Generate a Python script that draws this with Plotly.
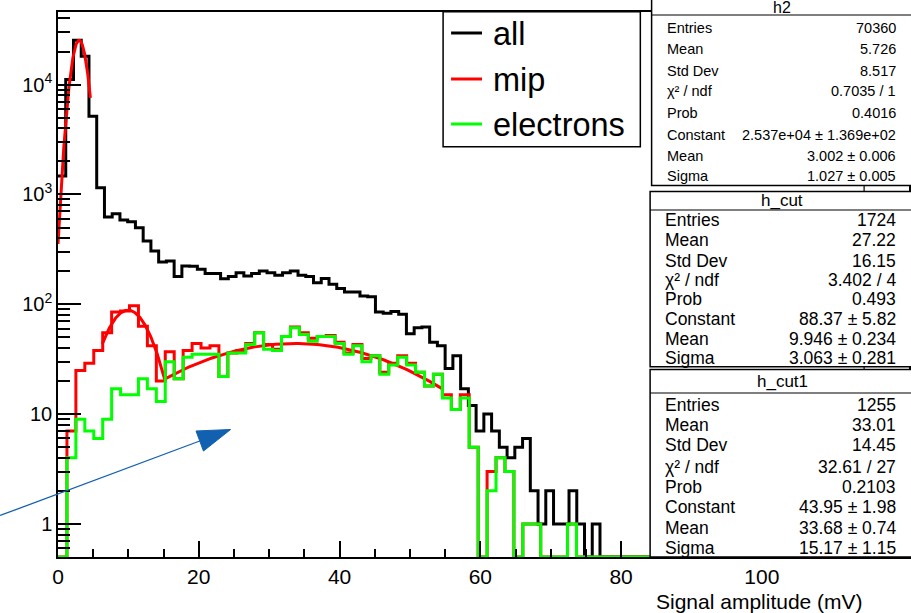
import math
import plotly.graph_objects as go

# ---------------------------------------------------------------- data
# "all" histogram: 1.1 mV bins starting at 0
ALL_BIN_WIDTH = 1.1
all_counts = [1470, 11100, 25400, 18100, 5150, 1150, 622, 668, 584, 565,
              498, 376, 305, 243, 248, 179, 223, 222, 208, 191,
              191, 171, 179, 194, 181, 191, 201, 194, 184, 194,
              201, 184, 179, 157, 172, 152, 139, 129, 129, 119,
              117, 85, 83, 86, 81, 54, 61, 62, 45, 42,
              26, 34, 17, 12, 7, 10, 7, 5, 4, 5,
              6, 2, 1, 2, 1, 1, 2, 1, 0, 1]
ALL_NBINS = 110

# "mip" and "electrons" histograms: 1.27 mV bins starting at 0
CUT_BIN_WIDTH = 1.27
mip_counts = [0, 7, 25, 29, 38, 55, 85, 87, 97, 63,
              42, 20, 37, 21, 38, 44, 40, 42, 22, 36,
              38, 44, 55, 43, 39, 51, 62, 55, 49, 51,
              52, 45, 36, 43, 32, 34, 24, 29, 34, 29,
              24, 18, 23, 15, 11, 15, 5, 0, 3, 4,
              3, 0, 1, 1, 0, 0, 0, 1]
electron_counts = [0, 4, 9, 7, 6, 9, 17, 15, 15, 21,
                   17, 13, 30, 21, 33, 35, 35, 35, 22, 36,
                   36, 43, 55, 39, 38, 51, 61, 53, 46, 51,
                   51, 44, 35, 42, 30, 34, 23, 28, 33, 28,
                   24, 18, 23, 14, 11, 14, 5, 0, 2, 4,
                   3, 0, 1, 1, 0, 0, 0, 1]
CUT_NBINS = 96

# Gaussian fits (constant, mean, sigma) and their drawn ranges
fit_constants = [2.537e4, 88.37, 43.95]
fit_means = [3.002, 9.946, 33.68]
fit_sigmas = [1.027, 3.063, 15.17]
fit_ranges = [(0.0, 4.6), (6.3, 15.2), (15.2, 54.5)]

legend_names = ["all", "mip", "electrons"]
legend_colors = ["#000000", "#ff0000", "#00ff00"]

x_tick_vals = [0, 20, 40, 60, 80, 100]
x_tick_text = ["0", "20", "40", "60", "80", "100"]
y_tick_vals = [1, 10, 100, 1000, 10000]
y_tick_text = ["1", "10", "10<sup>2</sup>", "10<sup>3</sup>", "10<sup>4</sup>"]

stats_titles = ["h2", "h_cut", "h_cut1"]
stats_labels = [
    ["Entries", "Mean", "Std Dev", "χ² / ndf", "Prob", "Constant", "Mean", "Sigma"],
    ["Entries", "Mean", "Std Dev", "χ² / ndf", "Prob", "Constant", "Mean", "Sigma"],
    ["Entries", "Mean", "Std Dev", "χ² / ndf", "Prob", "Constant", "Mean", "Sigma"],
]
stats_values = [
    ["70360", "5.726", "8.517", "0.7035 / 1", "0.4016",
     "2.537e+04 ± 1.369e+02", "3.002 ± 0.006", "1.027 ± 0.005"],
    ["1724", "27.22", "16.15", "3.402 / 4", "0.493",
     "88.37 ± 5.82", "9.946 ± 0.234", "3.063 ± 0.281"],
    ["1255", "33.01", "14.45", "32.61 / 27", "0.2103",
     "43.95 ± 1.98", "33.68 ± 0.74", "15.17 ± 1.15"],
]

# ---------------------------------------------------------------- geometry
W, H = 911, 613
ML, MR, MT, MB = 58, 0, 12, 56
PW, PH = W - ML - MR, H - MT - MB
X_RANGE = [0, 120.9]
Y_FLOOR = 0.5
Y_RANGE = [math.log10(Y_FLOOR), 4.661]
FONT = "Liberation Sans, Arial, Helvetica, sans-serif"


def px(x):
    return (x - ML) / PW


def py(y):
    return (H - MB - y) / PH


def step(counts, width, nbins):
    vals = list(counts) + [0] * (nbins - len(counts))
    edges = [i * width for i in range(nbins + 1)]
    ys = [v if v > 0 else Y_FLOOR for v in vals]
    return edges, ys + [ys[-1]]


fig = go.Figure()

for counts, width, nbins, color in [
    (all_counts, ALL_BIN_WIDTH, ALL_NBINS, legend_colors[0]),
    (mip_counts, CUT_BIN_WIDTH, CUT_NBINS, legend_colors[1]),
]:
    xs, ys = step(counts, width, nbins)
    fig.add_trace(go.Scatter(x=xs, y=ys, mode="lines",
                             line=dict(color=color, width=3, shape="hv"),
                             showlegend=False, hoverinfo="skip"))

# fit curves
for c, m, s, (lo, hi) in zip(fit_constants, fit_means, fit_sigmas, fit_ranges):
    n = 120
    xs = [lo + (hi - lo) * i / n for i in range(n + 1)]
    ys = [c * math.exp(-0.5 * ((x - m) / s) ** 2) for x in xs]
    fig.add_trace(go.Scatter(x=xs, y=ys, mode="lines",
                             line=dict(color="#ff0000", width=3),
                             showlegend=False, hoverinfo="skip"))

xs, ys = step(electron_counts, CUT_BIN_WIDTH, CUT_NBINS)
fig.add_trace(go.Scatter(x=xs, y=ys, mode="lines",
                         line=dict(color=legend_colors[2], width=3, shape="hv"),
                         showlegend=False, hoverinfo="skip"))

shapes = []
annotations = []

# blue arrow
ax0, ay0 = 0.0, 515.5
ax1, ay1 = 231.0, 429.5
dx, dy = ax1 - ax0, ay1 - ay0
dl = math.hypot(dx, dy)
ux, uy = dx / dl, dy / dl
head_len, head_half = 33.0, 10.7
bx, by = ax1 - ux * head_len, ay1 - uy * head_len
c1 = (bx - uy * head_half, by + ux * head_half)
c2 = (bx + uy * head_half, by - ux * head_half)
ARROW = "#1260b0"
shapes.append(dict(type="line", xref="paper", yref="paper",
                   x0=px(ax0), y0=py(ay0), x1=px(bx), y1=py(by),
                   line=dict(color=ARROW, width=1.3)))
shapes.append(dict(type="path", xref="paper", yref="paper",
                   path=f"M {px(ax1)} {py(ay1)} L {px(c1[0])} {py(c1[1])} "
                        f"L {px(c2[0])} {py(c2[1])} Z",
                   fillcolor=ARROW, line=dict(color=ARROW, width=1)))

# legend box
LG = dict(x0=444, x1=641.7, y0=11.7, y1=146.7)
shapes.append(dict(type="rect", xref="paper", yref="paper",
                   x0=px(LG["x0"]), x1=px(LG["x1"]), y0=py(LG["y1"]), y1=py(LG["y0"]),
                   fillcolor="white", line=dict(color="black", width=1.5)))
for name, color, ry in zip(legend_names, legend_colors, [33, 79, 124]):
    shapes.append(dict(type="line", xref="paper", yref="paper",
                       x0=px(452), x1=px(483), y0=py(ry), y1=py(ry),
                       line=dict(color=color, width=3)))
    annotations.append(dict(xref="paper", yref="paper", x=px(492), y=py(ry + 1),
                            xanchor="left", yanchor="middle", showarrow=False,
                            text=name, font=dict(family=FONT, size=32.5, color="black")))

# stats boxes
boxes = [
    dict(left=653, top=-5, sep=15, bottom=185.5, title_y=7, rows=[28, 49.3, 70.7, 91, 113.3, 135, 155.7, 175.7],
         fs=14.5, tfs=16, lx=666.5),
    dict(left=651.5, top=191.5, sep=210, bottom=366.7, title_y=200.5,
         rows=[220, 240, 260.5, 280, 298.5, 318.5, 338.5, 358.3], fs=17.5, tfs=17, lx=664.5),
    dict(left=651.5, top=369.5, sep=393, bottom=557, title_y=381.5,
         rows=[405, 425, 445, 466.7, 486.7, 506.7, 527.5, 547.5], fs=17.5, tfs=17, lx=664),
]
for b, title, labels, values in zip(boxes, stats_titles, stats_labels, stats_values):
    shapes.append(dict(type="rect", xref="paper", yref="paper",
                       x0=px(b["left"]), x1=px(W + 5), y0=py(b["bottom"]), y1=py(b["top"]),
                       fillcolor="white", line=dict(color="black", width=1.5)))
    shapes.append(dict(type="line", xref="paper", yref="paper",
                       x0=px(b["left"]), x1=px(W + 5), y0=py(b["sep"]), y1=py(b["sep"]),
                       line=dict(color="black", width=1.2)))
    annotations.append(dict(xref="paper", yref="paper", x=px(784), y=py(b["title_y"]),
                            xanchor="center", yanchor="middle", showarrow=False,
                            text=title, font=dict(family=FONT, size=b["tfs"], color="black")))
    for lab, val, ry in zip(labels, values, b["rows"]):
        annotations.append(dict(xref="paper", yref="paper", x=px(b["lx"]), y=py(ry),
                                xanchor="left", yanchor="middle", showarrow=False,
                                text=lab, font=dict(family=FONT, size=b["fs"], color="black")))
        annotations.append(dict(xref="paper", yref="paper", x=px(900), y=py(ry),
                                xanchor="right", yanchor="middle", showarrow=False,
                                text=val, font=dict(family=FONT, size=b["fs"], color="black")))

# short frame segments peeking out between the boxes
for y0, y1 in [(185.5, 191.5), (366.7, 369.5)]:
    shapes.append(dict(type="line", xref="paper", yref="paper",
                       x0=px(866), x1=px(866), y0=py(y1), y1=py(y0),
                       line=dict(color="black", width=1.2)))

# x axis title
annotations.append(dict(xref="paper", yref="paper", x=px(867), y=py(601),
                        xanchor="right", yanchor="middle", showarrow=False,
                        text="Signal amplitude (mV)",
                        font=dict(family=FONT, size=21, color="black")))

y_minor = [m * 10 ** e for e in range(-1, 5) for m in range(2, 10)]

fig.update_layout(
    width=W, height=H, autosize=False,
    margin=dict(l=ML, r=MR, t=MT, b=MB, pad=0),
    paper_bgcolor="white", plot_bgcolor="white",
    font=dict(family=FONT, color="black"),
    shapes=shapes, annotations=annotations,
    xaxis=dict(range=X_RANGE, showgrid=False, zeroline=False,
               showline=True, linecolor="black", linewidth=1.5, mirror=True,
               ticks="inside", ticklen=16, tickwidth=1.5, tickcolor="black",
               tickvals=x_tick_vals, ticktext=x_tick_text,
               tickfont=dict(family=FONT, size=21, color="black"),
               minor=dict(ticks="inside", ticklen=8, tickwidth=1.5, tickcolor="black",
                          dtick=5, showgrid=False)),
    yaxis=dict(type="log", range=Y_RANGE, showgrid=False, zeroline=False,
               showline=True, linecolor="black", linewidth=1.5, mirror=True,
               ticks="inside", ticklen=23, tickwidth=1.5, tickcolor="black",
               tickvals=y_tick_vals, ticktext=y_tick_text,
               tickfont=dict(family=FONT, size=20, color="black"),
               minor=dict(ticks="inside", ticklen=12, tickwidth=1.5, tickcolor="black",
                          tickvals=y_minor, showgrid=False)),
)

fig.write_html("out.html")
